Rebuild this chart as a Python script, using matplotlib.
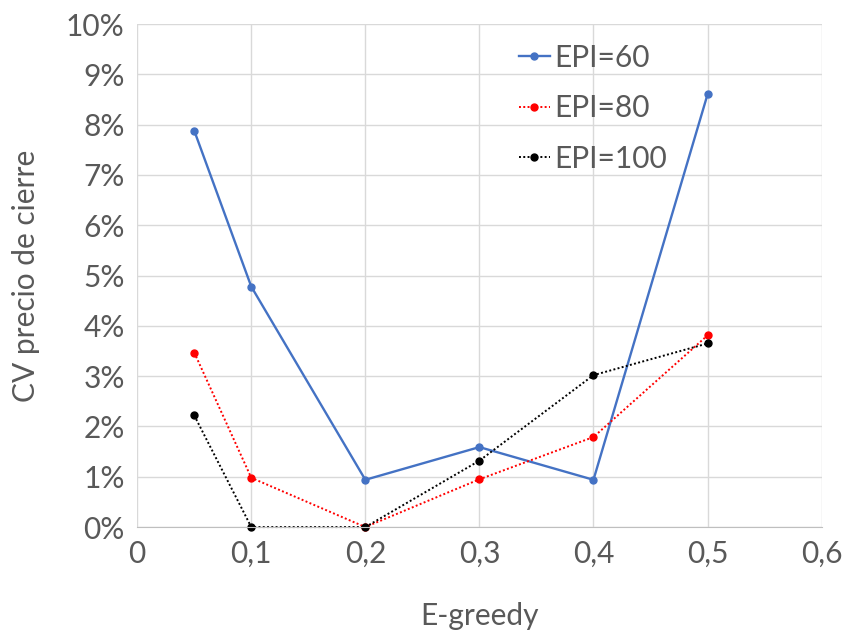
import matplotlib
matplotlib.use('Agg')
from matplotlib import pyplot as plt
from matplotlib.ticker import FuncFormatter

x = [0.05, 0.1, 0.2, 0.3, 0.4, 0.5]
epi60 = [7.88, 4.78, 0.94, 1.59, 0.94, 8.6]
epi80 = [3.47, 0.98, 0.0, 0.95, 1.79, 3.81]
epi100 = [2.22, 0.0, 0.0, 1.32, 3.02, 3.65]
labels = ['EPI=60', 'EPI=80', 'EPI=100']

plt.rcParams['font.family'] = ['Lato', 'DejaVu Sans']
TXT = '#595959'
FS = 21.5

fig = plt.figure(figsize=(8.47, 6.32), dpi=100)
ax = fig.add_axes([0.162, 0.166, 0.808, 0.796])

ax.plot(x, epi60, color='#4472c4', lw=1.7, marker='o', ms=5, label=labels[0], clip_on=False)
ax.plot(x, epi80, color='#ff0000', lw=1.4, ls=(0, (1, 1.2)), marker='o', ms=5, label=labels[1], clip_on=False)
ax.plot(x, epi100, color='#000000', lw=1.4, ls=(0, (1, 1.2)), marker='o', ms=5, label=labels[2], clip_on=False)

ax.set_xlim(0, 0.6)
ax.set_ylim(0, 10)
ax.set_xticks([0, 0.1, 0.2, 0.3, 0.4, 0.5, 0.6])
ax.set_yticks(range(0, 11))
ax.xaxis.set_major_formatter(FuncFormatter(lambda v, p: '0' if v == 0 else ('%.1f' % v).replace('.', ',')))
ax.yaxis.set_major_formatter(FuncFormatter(lambda v, p: '%d%%' % v))
ax.tick_params(length=0, labelsize=FS, labelcolor=TXT, pad=9)
ax.grid(True, color='#d9d9d9', lw=1)
ax.set_axisbelow(True)
for s in ['top', 'right', 'left']:
    ax.spines[s].set_visible(False)
ax.spines['bottom'].set_color('#bfbfbf')

ax.set_xlabel('E-greedy', fontsize=FS, color=TXT, labelpad=25)
ax.set_ylabel('CV precio de cierre', fontsize=FS, color=TXT, labelpad=19)

ax.legend(loc='upper left', bbox_to_anchor=(0.518, 1.014), frameon=False, fontsize=FS,
          labelcolor=TXT, handlelength=1.05, labelspacing=0.75, handletextpad=0.15)

fig.savefig('out.png', dpi=100)
